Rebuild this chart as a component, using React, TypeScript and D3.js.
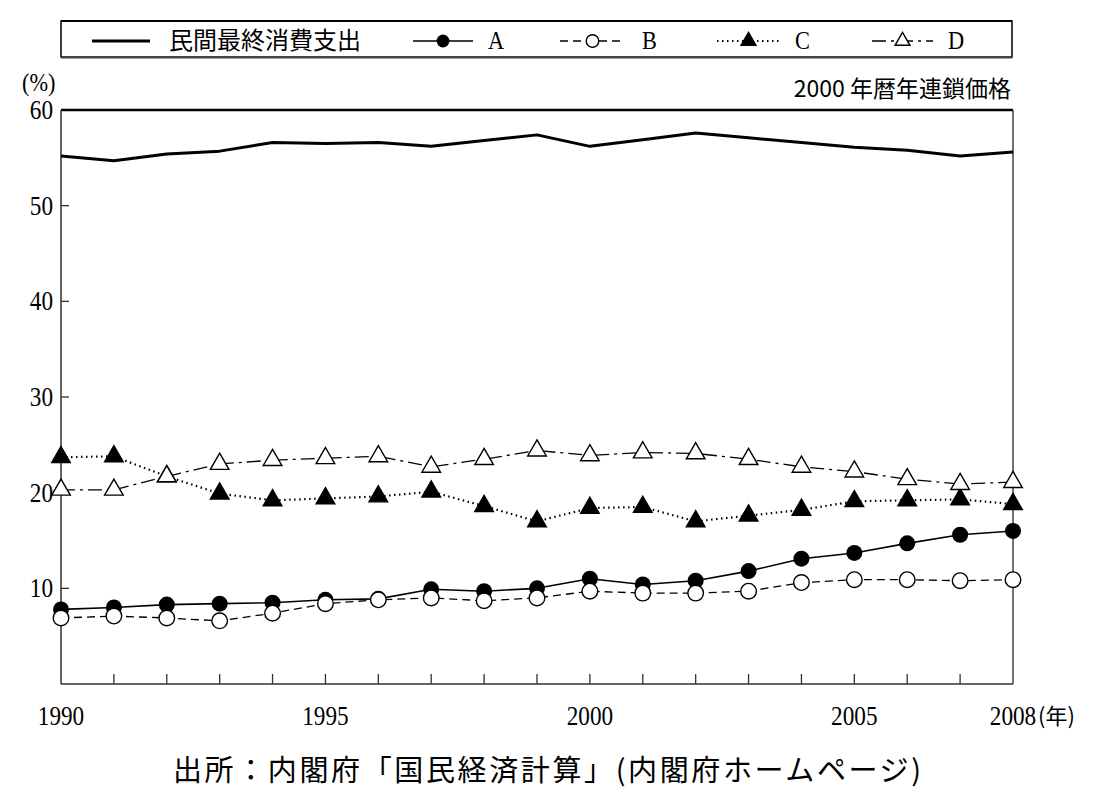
import React from "react";
import * as d3 from "d3";

const years = [
  1990, 1991, 1992, 1993, 1994, 1995, 1996, 1997, 1998, 1999,
  2000, 2001, 2002, 2003, 2004, 2005, 2006, 2007, 2008,
];
const consumption = [
  55.2, 54.7, 55.4, 55.7, 56.6, 56.5, 56.6, 56.2, 56.8, 57.4,
  56.2, 56.9, 57.6, 57.1, 56.6, 56.1, 55.8, 55.2, 55.6,
];
const seriesA = [
  7.8, 8.0, 8.3, 8.4, 8.5, 8.8, 8.9, 9.9, 9.7, 10.0,
  11.0, 10.4, 10.8, 11.8, 13.1, 13.7, 14.7, 15.6, 16.0,
];
const seriesB = [
  6.9, 7.1, 6.9, 6.6, 7.4, 8.4, 8.8, 9.0, 8.7, 9.0,
  9.7, 9.5, 9.5, 9.7, 10.6, 10.9, 10.9, 10.8, 10.9,
];
const seriesC = [
  23.7, 23.8, 21.7, 19.9, 19.2, 19.4, 19.6, 20.1, 18.6, 17.0,
  18.4, 18.5, 17.0, 17.6, 18.2, 19.1, 19.2, 19.3, 18.8,
];
const seriesD = [
  20.3, 20.3, 21.7, 23.0, 23.4, 23.6, 23.8, 22.7, 23.5, 24.4,
  23.9, 24.2, 24.1, 23.5, 22.7, 22.2, 21.4, 20.9, 21.1,
];
const yTicks = [10, 20, 30, 40, 50, 60];
const xLabels = [1990, 1995, 2000, 2005, 2008];

const legendLabels = ["民間最終消費支出", "A", "B", "C", "D"];
const noteText = "2000 年暦年連鎖価格";
const sourceText = "出所：内閣府「国民経済計算」(内閣府ホームページ)";

const latin = "'Liberation Serif', 'Noto Sans CJK JP', serif";
const cjk = "'Noto Sans CJK JP', 'Liberation Serif', serif";

const W = 1102;
const H = 808;
const plot = { left: 61, right: 1013, top: 110, bottom: 684 };

type Marker = "none" | "dot" | "circle" | "tri" | "otri";

const Mark: React.FC<{ kind: Marker; x: number; y: number; scale?: number }> = ({
  kind,
  x,
  y,
  scale = 1,
}) => {
  if (kind === "dot") return <circle cx={x} cy={y} r={8 * scale} fill="#000" />;
  if (kind === "circle")
    return <circle cx={x} cy={y} r={7.8 * scale} fill="#fff" stroke="#000" strokeWidth={1.4} />;
  if (kind === "tri" || kind === "otri") {
    const path = d3.symbol(d3.symbolTriangle, 150 * scale * scale)() || "";
    return (
      <path
        d={path}
        transform={`translate(${x},${y})`}
        fill={kind === "tri" ? "#000" : "#fff"}
        stroke="#000"
        strokeWidth={1.4}
      />
    );
  }
  return null;
};

// narrow serif digits like the original print
const Num: React.FC<{ x: number; y: number; anchor?: string; size?: number; children: React.ReactNode }> = ({
  x,
  y,
  anchor = "middle",
  size = 27,
  children,
}) => (
  <text
    transform={`translate(${x},${y}) scale(0.86,1)`}
    textAnchor={anchor}
    fontFamily={latin}
    fontSize={size}
  >
    {children}
  </text>
);

export default function App() {
  const x = d3.scaleLinear().domain([1990, 2008]).range([plot.left, plot.right]);
  const y = d3.scaleLinear().domain([0, 60]).range([plot.bottom, plot.top]);

  const line = d3
    .line<number>()
    .x((_, i) => x(years[i]))
    .y((d) => y(d));

  const series = [
    { values: consumption, marker: "none" as Marker, width: 3, dash: undefined },
    { values: seriesA, marker: "dot" as Marker, width: 1.6, dash: undefined },
    { values: seriesB, marker: "circle" as Marker, width: 1.3, dash: "8,5" },
    { values: seriesC, marker: "tri" as Marker, width: 2.2, dash: "1.5,3.5" },
    { values: seriesD, marker: "otri" as Marker, width: 1.3, dash: "14,5,3,5" },
  ];

  // legend layout (line start, line end, text x)
  const legendItems = [
    { x1: 92, x2: 150, tx: 169 },
    { x1: 413, x2: 473, tx: 488 },
    { x1: 560, x2: 625, tx: 642 },
    { x1: 717, x2: 780, tx: 795 },
    { x1: 872, x2: 933, tx: 948 },
  ];
  const legendY = 41;

  return (
    <svg
      width={W}
      height={H}
      style={{ position: "absolute", left: 0, top: 0, background: "#fff" }}
    >
      <rect width={W} height={H} fill="#fff" />

      {/* legend */}
      <rect x={61} y={21} width={951} height={36} fill="#fff" stroke="#000" strokeWidth={1.5} />
      <line x1={61} x2={1012} y1={21} y2={21} stroke="#000" strokeWidth={2.2} />
      <line x1={61} x2={1012} y1={57.5} y2={57.5} stroke="#444" strokeWidth={2} />
      {series.map((s, i) => {
        const it = legendItems[i];
        return (
          <g key={`lg-${i}`}>
            <line
              x1={it.x1}
              x2={it.x2}
              y1={legendY}
              y2={legendY}
              stroke="#000"
              strokeWidth={i === 0 ? 3 : s.width}
              strokeDasharray={s.dash}
            />
            <Mark kind={s.marker} x={(it.x1 + it.x2) / 2} y={legendY} scale={0.8} />
            {i === 0 ? (
              <text x={it.tx} y={legendY + 8} fontFamily={cjk} fontSize={24}>
                {legendLabels[i]}
              </text>
            ) : (
              <Num x={it.tx} y={legendY + 8} anchor="start" size={26}>
                {legendLabels[i]}
              </Num>
            )}
          </g>
        );
      })}

      {/* axis unit and note */}
      <Num x={22} y={91} anchor="start" size={26}>
        (%)
      </Num>
      <text x={1011} y={97} textAnchor="end" fontFamily={cjk} fontSize={23}>
        {noteText}
      </text>

      {/* frame */}
      <line x1={plot.left} x2={plot.right} y1={plot.top} y2={plot.top} stroke="#000" strokeWidth={2.5} />
      <line x1={plot.right} x2={plot.right} y1={plot.top} y2={plot.bottom} stroke="#444" strokeWidth={1.5} />
      <line x1={plot.left} x2={plot.left} y1={plot.top} y2={plot.bottom} stroke="#333" strokeWidth={1.5} />
      <line x1={plot.left} x2={plot.right} y1={plot.bottom} y2={plot.bottom} stroke="#333" strokeWidth={1.5} />

      {/* y ticks */}
      {yTicks.map((t) => (
        <g key={`yt-${t}`}>
          {t < 60 && (
            <line x1={plot.left} x2={plot.left + 8} y1={y(t)} y2={y(t)} stroke="#333" strokeWidth={1.3} />
          )}
          <Num x={53} y={y(t) + 9} anchor="end">
            {t}
          </Num>
        </g>
      ))}

      {/* x ticks */}
      {years.slice(1, -1).map((yr) => (
        <line
          key={`xt-${yr}`}
          x1={x(yr)}
          x2={x(yr)}
          y1={plot.bottom}
          y2={plot.bottom - 10}
          stroke="#333"
          strokeWidth={1.3}
        />
      ))}
      {xLabels.map((yr) => (
        <Num key={`xl-${yr}`} x={x(yr)} y={725}>
          {yr}
        </Num>
      ))}
      <text x={x(2008) + 25} y={724} fontFamily={cjk} fontSize={22}>
        (年)
      </text>

      {/* series */}
      {series.map((s, i) => (
        <path
          key={`ln-${i}`}
          d={line(s.values) || ""}
          fill="none"
          stroke="#000"
          strokeWidth={s.width}
          strokeDasharray={s.dash}
          strokeLinejoin="round"
        />
      ))}
      {series.map((s, i) =>
        s.values.map((v, j) => <Mark key={`mk-${i}-${j}`} kind={s.marker} x={x(years[j])} y={y(v)} />)
      )}

      {/* source */}
      <text
        x={173}
        y={781}
        fontFamily={cjk}
        fontSize={29}
        textLength={748}
        lengthAdjust="spacing"
      >
        {sourceText}
      </text>
    </svg>
  );
}
